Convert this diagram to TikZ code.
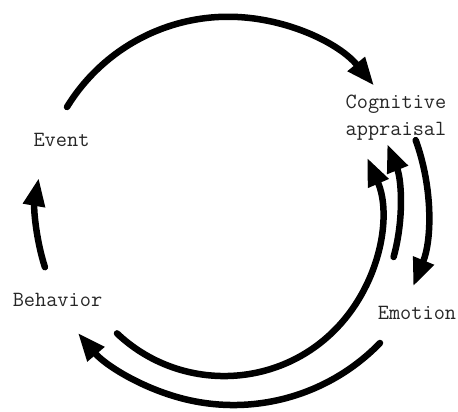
\documentclass[tikz,border=0pt]{standalone}
\usepackage{fontspec}
\usetikzlibrary{arrows.meta, positioning}

\begin{document}
\begin{tikzpicture}[x=1pt, y=1pt, every node/.style={font=\fontsize{21.7}{27}\selectfont\ttfamily, text=black!85, inner sep=0pt, align=center}, flow/.style={line width=6.5pt, line cap=round, -{Triangle[length=28pt, width=21pt]}}]
    \useasboundingbox (0,0) rectangle (458,412);
    % Nodes
    \node[anchor=base] (event) at (61.5,265) {Event};
    \node (appraisal) at (396,294) {Cognitive \\ appraisal};
    \node[anchor=base] (emotion) at (417,92) {Emotion};
    \node[anchor=base] (behavior) at (57.5,105) {Behavior};

    % Arrow ends
    \coordinate (event out) at (67,305);
    \coordinate (behavior back) at (117,78.6);
    \coordinate (emotion out) at (380,69);
    \coordinate (emotion back) at (393.6,155);
    \coordinate (appraisal out) at (415.7,271.8);
    \coordinate (behavior out) at (44.9,144.8);

    % Arrows
    \draw[flow] (event out) arc[start angle=148.5, end angle=39.5, radius=189pt];
    \draw[flow] (appraisal out) arc[start angle=20, end angle=-22, radius=204pt];
    \draw[flow] (emotion back) arc[start angle=-15.5, end angle=22, radius=176pt];
    \draw[flow] (emotion out) arc[start angle=-44.1, end angle=-139.7, radius=204pt];
    \draw[flow] (behavior back) arc[start angle=226.6, end angle=383.5, radius=156pt];
    \draw[flow] (behavior out) arc[start angle=197.7, end angle=170.2, radius=188pt];
\end{tikzpicture}
\end{document}
